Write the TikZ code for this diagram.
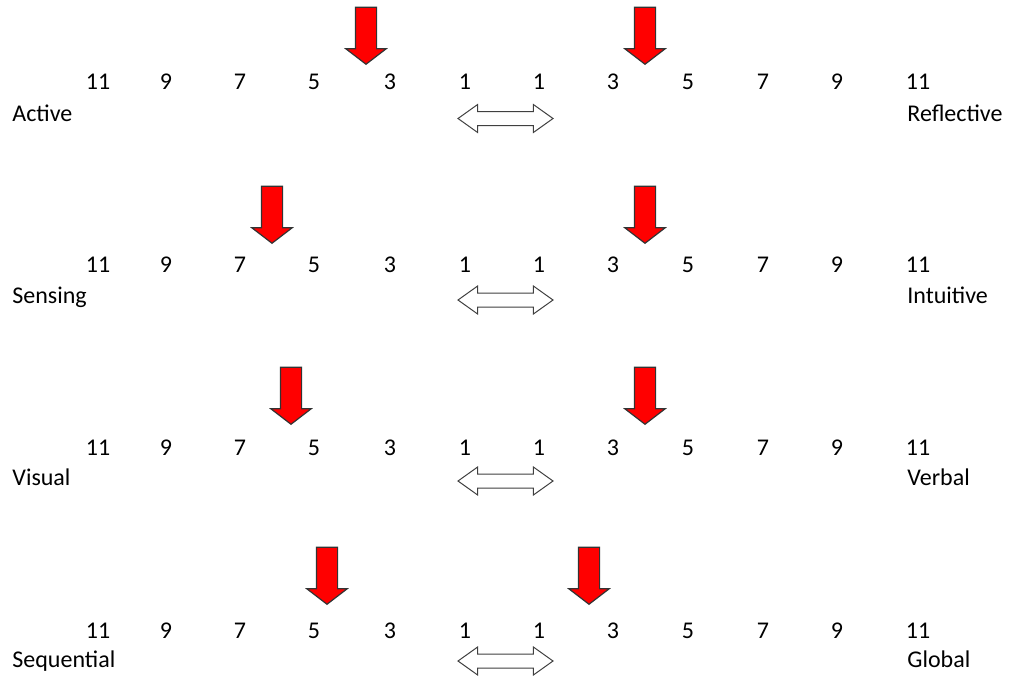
\documentclass[tikz,border=0pt]{standalone}
\usepackage{fontspec}
\setmainfont{Carlito}
\usetikzlibrary{shapes.arrows}

\begin{document}
\begin{tikzpicture}[x=0.5pt,y=-0.5pt,
 num/.style={anchor=base,inner sep=0pt,font=\fontsize{12}{14}\selectfont},
 lbl/.style={anchor=base west,inner sep=0pt,font=\fontsize{12}{14}\selectfont},
 pick/.style={single arrow,shape border rotate=270,draw=black!80,line width=0.6pt,fill=red,
  minimum height=28.5pt,inner sep=5pt,single arrow head extend=4.75pt,single arrow tip angle=105},
 both/.style={double arrow,draw=black!75,line width=0.5pt,fill=white,
  minimum height=47.5pt,inner xsep=0pt,inner ysep=3.25pt,double arrow head extend=3.5pt,double arrow tip angle=71}]
 \useasboundingbox (0,0) rectangle (1010,675);
 % one row per scale
 \foreach \r/\lft/\rgt/\xa/\xb/\ya/\yd in {0/Active/Reflective/366/645/8/118.5,1/Sensing/Intuitive/272/645/187/300,
   2/Visual/Verbal/291/645/368/481,3/Sequential/Global/327/589/548/661}{
  \pgfmathsetmacro{\yb}{89+183*\r}
  \foreach \v/\x [count=\k] in {11/98,9/166,7/240,5/314,3/390,1/465,1/539,3/613,5/688,7/763,9/837,11/918}
   \node[num] (n\r-\k) at (\x,\yb) {\v};
  \node[lbl] (l\r) at (12,121+182.3*\r) {\lft};
  \node[lbl] (r\r) at (907,121+182.3*\r) {\rgt};
  \node[both] (d\r) at (505.5,\yd) {};
  \node[pick,anchor=tip] (a\r) at (\xa,\ya+57) {};
  \node[pick,anchor=tip] (b\r) at (\xb,\ya+57) {};
 }
\end{tikzpicture}
\end{document}
